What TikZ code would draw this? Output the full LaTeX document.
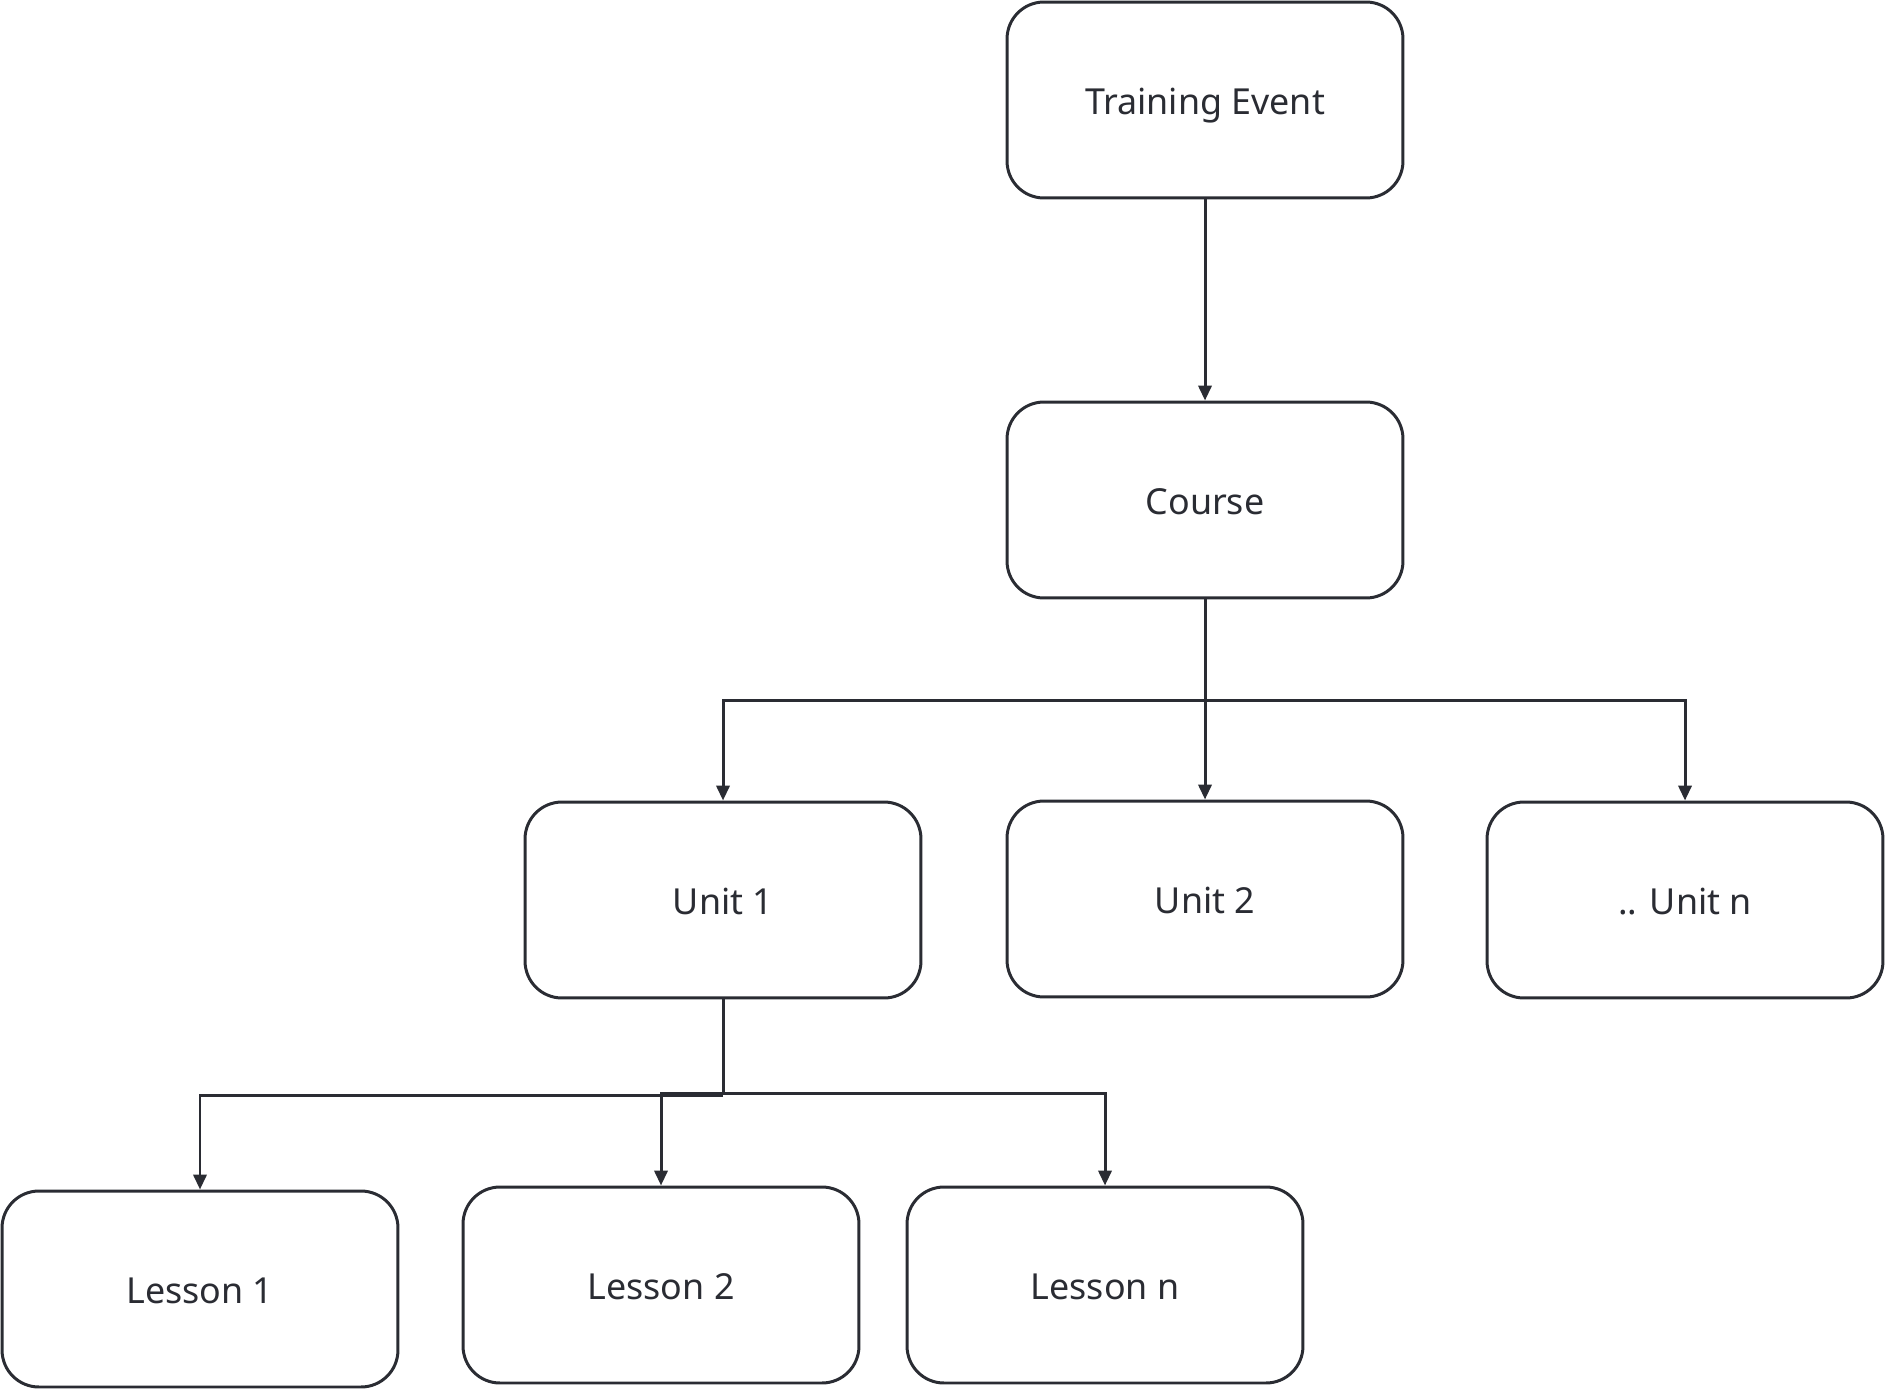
\documentclass[tikz,border=0pt]{standalone}
\usepackage{fontspec}
\setmainfont{Noto Sans}
\usetikzlibrary{arrows.meta}
\definecolor{inkgray}{HTML}{2A2C33}

\begin{document}
\begin{tikzpicture}[x=0.02cm,y=-0.02cm,
    box/.style={draw=inkgray,line width=1.7pt,rounded corners=21pt,
      minimum width=7.92cm,minimum height=3.92cm,inner sep=0pt,
      text height=22pt,text depth=5pt,
      text=inkgray,font=\fontsize{20.4}{24}\selectfont},
    link/.style={draw=inkgray,line width=1.7pt},
    arr/.style={link,-{Triangle[length=8.5pt,width=7.5pt]}}] % begins the tikz environment
    \useasboundingbox (0,0) rectangle (1886,1389);
    \node (event) at (1205,100) [box] {Training Event
    };
    \node (course) at (1205,500) [box] {Course
    };
    \node (unit1) at (723,900) [box] {Unit 1
    };
    \node (unit2) at (1205,899) [box] {Unit 2
    };
    \node (unitn) at (1685,900) [box] {.. Unit n
    };
    \node (lesson1) at (200,1289) [box] {Lesson 1
    };
    \node (lesson2) at (661,1285) [box] {Lesson 2
    };
    \node (lessonn) at (1105,1285) [box] {Lesson n
    };
    \coordinate (cfork) at (1205,700);
    \coordinate (ufork) at (723,1095);
    \coordinate (ufork2) at (723,1093);
    \draw[arr] (event) -- (course);
    \draw[link] (course) -- (cfork);
    \draw[arr] (cfork) -| (unit1);
    \draw[arr] (cfork) -- (unit2);
    \draw[arr] (cfork) -| (unitn);
    \draw[link] (unit1) -- (ufork);
    \draw[arr] (ufork) -| (lesson1);
    \draw[arr] (ufork2) -| (lesson2);
    \draw[arr] (ufork2) -| (lessonn);
  \end{tikzpicture}
\end{document}
